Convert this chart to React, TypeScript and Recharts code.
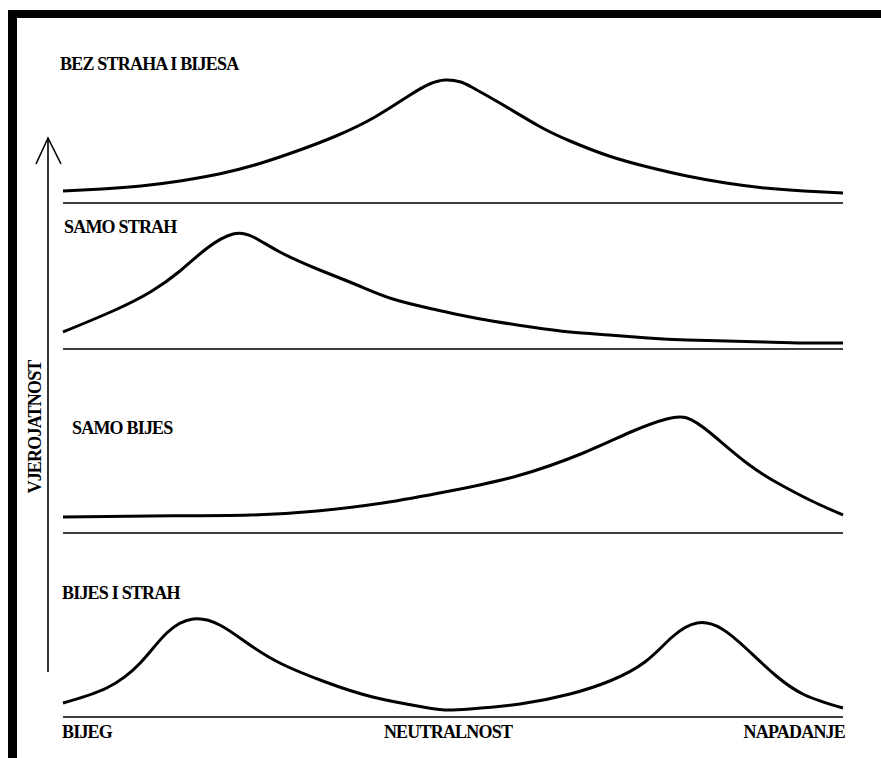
import React from "react"
import { LineChart, Line, XAxis, YAxis, ReferenceLine } from "recharts"

// x: 0 = BIJEG, 50 = NEUTRALNOST, 100 = NAPADANJE; y: height above baseline
const calmX = [0, 5, 10, 15, 20, 25, 30, 35, 40, 44.5, 47, 49, 51, 52.6, 56, 61, 65, 70, 75, 80, 85, 90, 95, 100]
const calmY = [12, 14, 17, 22, 29, 39, 52, 67, 86, 108, 119, 123, 121, 115, 100, 77, 62, 47, 36, 27, 20, 15, 12, 10]

const fearX = [0, 6.4, 11.2, 15, 18.5, 21.8, 24.4, 27.8, 32.6, 37.7, 42.3, 47.4, 50.9, 55, 60, 65, 70, 75, 80, 85, 90, 95, 100]
const fearY = [17, 38, 57, 78, 101, 115, 112, 97, 80, 64, 50, 40, 34, 28, 22, 17, 14, 11, 9, 8, 7, 6, 6]

const angerX = [0, 11.2, 24, 32.6, 41, 49.6, 58.2, 66.7, 73.1, 77.4, 80, 83, 88, 92.3, 96, 100]
const angerY = [16, 17, 18, 22, 30, 42, 57, 80, 102, 114, 115, 100, 68, 47, 32, 18]

const bothX = [0, 5.6, 9.9, 13.3, 16.7, 20.1, 23.6, 27.8, 33.3, 39.7, 46.2, 49, 52.2, 58.6, 65, 70.1, 74.6, 78.1, 81.3, 84.5, 87.8, 91.3, 95.1, 100]
const bothY = [14, 29, 54, 84, 98, 92, 74, 54, 36, 20, 10, 7, 8, 13, 23, 36, 55, 80, 94, 88, 67, 42, 22, 9]

const panelTitles = ["BEZ STRAHA I BIJESA", "SAMO STRAH", "SAMO BIJES", "BIJES I STRAH"]
const axisLabels = ["BIJEG", "NEUTRALNOST", "NAPADANJE"]
const yTitle = "VJEROJATNOST"

const FONT = "'Liberation Serif', 'DejaVu Serif', serif"

function zip(xs: number[], ys: number[]) {
  return xs.map((x, i) => ({ x, y: ys[i] }))
}

const panels = [
  { data: zip(calmX, calmY), base: 203, title: panelTitles[0], tx: 60, ty: 69 },
  { data: zip(fearX, fearY), base: 349, title: panelTitles[1], tx: 64, ty: 232 },
  { data: zip(angerX, angerY), base: 533, title: panelTitles[2], tx: 72, ty: 433 },
  { data: zip(bothX, bothY), base: 717, title: panelTitles[3], tx: 62, ty: 598 },
]

const textStyle: React.CSSProperties = {
  position: "absolute",
  fontFamily: FONT,
  fontSize: 18,
  fontWeight: "bold",
  lineHeight: "18px",
  color: "#000",
  whiteSpace: "nowrap",
  letterSpacing: "-0.8px",
}

function Panel({ data, base }: { data: { x: number; y: number }[]; base: number }) {
  return (
    <div style={{ position: "absolute", left: 53, top: base - 135 }}>
      <LineChart width={800} height={140} data={data} margin={{ top: 5, right: 10, bottom: 5, left: 10 }}>
        <XAxis dataKey="x" type="number" domain={[0, 100]} hide />
        <YAxis type="number" domain={[0, 130]} hide />
        <ReferenceLine y={0} stroke="#000" strokeWidth={1.6} />
        <Line
          type="natural"
          dataKey="y"
          stroke="#000"
          strokeWidth={3}
          dot={false}
          isAnimationActive={false}
        />
      </LineChart>
    </div>
  )
}

export default function App() {
  return (
    <div style={{ position: "fixed", left: 0, top: 0, width: 881, height: 758, background: "#fff", overflow: "hidden" }}>
      {/* scanned frame: top and left edges only */}
      <div style={{ position: "absolute", left: 8, top: 10, width: 873, height: 8, background: "#000" }} />
      <div style={{ position: "absolute", left: 8, top: 10, width: 9, height: 748, background: "#000" }} />

      {panels.map((p) => (
        <Panel key={p.title} data={p.data} base={p.base} />
      ))}

      {panels.map((p) => (
        <div key={p.title + "-t"} style={{ ...textStyle, left: p.tx, top: p.ty - 14 }}>
          {p.title}
        </div>
      ))}

      <div style={{ ...textStyle, left: 62, top: 723 }}>{axisLabels[0]}</div>
      <div style={{ ...textStyle, left: 448, top: 723, transform: "translateX(-50%)" }}>{axisLabels[1]}</div>
      <div style={{ ...textStyle, right: 881 - 845, top: 723 }}>{axisLabels[2]}</div>

      <svg width={881} height={758} style={{ position: "absolute", left: 0, top: 0, pointerEvents: "none" }}>
        <line x1={48} y1={138} x2={48} y2={672} stroke="#000" strokeWidth={1.6} />
        <polyline points="36,164 48,138 61,164" fill="none" stroke="#000" strokeWidth={1.6} />
        <text
          x={0}
          y={0}
          transform="translate(41,427) rotate(-90)"
          textAnchor="middle"
          fontFamily={FONT}
          fontSize={18}
          fontWeight="bold"
          letterSpacing={-0.8}
        >
          {yTitle}
        </text>
      </svg>
    </div>
  )
}
